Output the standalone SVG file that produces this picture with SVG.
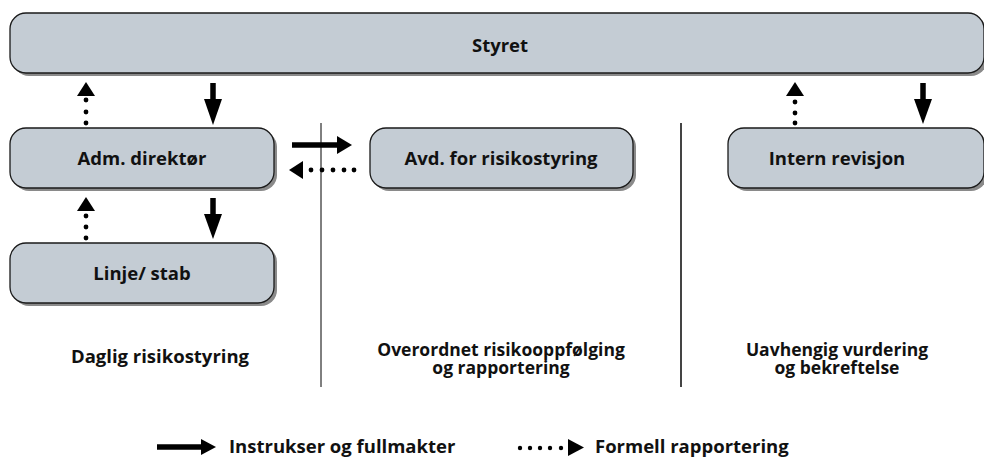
<svg xmlns="http://www.w3.org/2000/svg" width="984" height="457" viewBox="0 0 984 457">
<defs>
<style>
.box{fill:#c4ccd4;stroke:#1a1a1a;stroke-width:1.3}
.sh{fill:#8a8a8a}
.t{font-family:"Open Sans","DejaVu Sans",sans-serif;font-weight:bold;font-size:18.5px;fill:#111;text-anchor:middle}
.t2{font-size:17.5px}
.solid{stroke:#000;stroke-width:5.5;fill:none}
.dot{fill:#000}
.head{fill:#000}
</style>
</defs>
<rect width="984" height="457" fill="#fff"/>
<g id="styret">
<rect class="sh" x="13" y="16" width="974" height="60" rx="16"/>
<rect class="box" x="10" y="13" width="974" height="60" rx="16"/>
<text class="t" x="500" y="52">Styret</text>
</g>
<g id="adm">
<rect class="sh" x="13" y="131" width="264" height="60" rx="16"/>
<rect class="box" x="10" y="128" width="264" height="60" rx="16"/>
<text class="t" x="142" y="165">Adm. direktør</text>
</g>
<g id="linje">
<rect class="sh" x="13" y="246" width="264" height="60" rx="16"/>
<rect class="box" x="10" y="243" width="264" height="60" rx="16"/>
<text class="t" x="142" y="280">Linje/ stab</text>
</g>
<g id="avd">
<rect class="sh" x="373" y="131" width="263" height="60" rx="16"/>
<rect class="box" x="370" y="128" width="263" height="60" rx="16"/>
<text class="t" x="501" y="165">Avd. for risikostyring</text>
</g>
<g id="intern">
<rect class="sh" x="731" y="131" width="256" height="60" rx="16"/>
<rect class="box" x="728" y="128" width="256" height="60" rx="16"/>
<text class="t" x="837" y="165">Intern revisjon</text>
</g>
<g id="dividers">
<line x1="321" y1="123" x2="321" y2="387" stroke="#000" stroke-width="1"/>
<line x1="681" y1="123" x2="681" y2="387" stroke="#444" stroke-width="2"/>
</g>
<g id="labels">
<text class="t" x="160" y="363">Daglig risikostyring</text>
<text class="t t2" x="501" y="356"><tspan x="501" y="356">Overordnet risikooppfølging</tspan><tspan x="501" y="374">og rapportering</tspan></text>
<text class="t t2" x="837" y="356"><tspan x="837" y="356">Uavhengig vurdering</tspan><tspan x="837" y="374">og bekreftelse</tspan></text>
</g>
<g id="connectors">
<circle class="dot" cx="86" cy="100" r="2.4"/><circle class="dot" cx="86" cy="112" r="2.4"/><circle class="dot" cx="86" cy="123" r="2.4"/>
<polygon class="head" points="77,96 95,96 86,82"/>
<line class="solid" x1="213" y1="83" x2="213" y2="100"/>
<polygon class="head" points="204,99 222,99 213,125"/>
<circle class="dot" cx="86" cy="216" r="2.4"/><circle class="dot" cx="86" cy="227" r="2.4"/><circle class="dot" cx="86" cy="238" r="2.4"/>
<polygon class="head" points="77,211 95,211 86,197"/>
<line class="solid" x1="213" y1="198" x2="213" y2="215"/>
<polygon class="head" points="204,214 222,214 213,239"/>
<line class="solid" x1="292" y1="145" x2="338" y2="145"/>
<polygon class="head" points="337,136 337,154 352,145"/>
<polygon class="head" points="303,161 303,179 289,170"/>
<circle class="dot" cx="311" cy="170" r="2.4"/><circle class="dot" cx="322" cy="170" r="2.4"/><circle class="dot" cx="333" cy="170" r="2.4"/><circle class="dot" cx="344" cy="170" r="2.4"/><circle class="dot" cx="354" cy="170" r="2.4"/>
<circle class="dot" cx="795" cy="102" r="2.4"/><circle class="dot" cx="795" cy="113" r="2.4"/><circle class="dot" cx="795" cy="123" r="2.4"/>
<polygon class="head" points="786,96 804,96 795,82"/>
<line class="solid" x1="923" y1="83" x2="923" y2="100"/>
<polygon class="head" points="914,99 932,99 923,124"/>
</g>
<g id="legend">
<line class="solid" x1="157" y1="447" x2="203" y2="447"/>
<polygon class="head" points="201,439 201,455 216,447"/>
<text class="t" x="229" y="453" style="text-anchor:start">Instrukser og fullmakter</text>
<circle class="dot" cx="520" cy="448" r="2.2"/><circle class="dot" cx="530" cy="448" r="2.2"/><circle class="dot" cx="540" cy="448" r="2.2"/><circle class="dot" cx="550" cy="448" r="2.2"/><circle class="dot" cx="561" cy="448" r="2.2"/>
<polygon class="head" points="568,439 568,456 584,447.5"/>
<text class="t" x="595" y="453" style="text-anchor:start">Formell rapportering</text>
</g>
</svg>
